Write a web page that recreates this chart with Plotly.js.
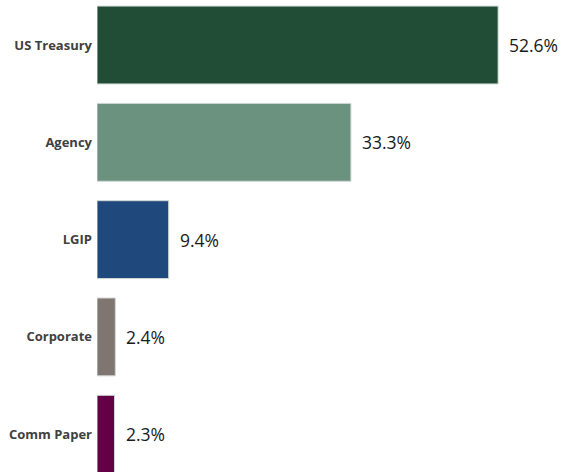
<!DOCTYPE html>
<html><head><meta charset="utf-8">
<script src="https://cdn.plot.ly/plotly-3.0.1.min.js"></script>
<style>html,body{margin:0;padding:0;background:#fff;}#chart{width:562px;height:472px;}</style>
</head><body><div id="chart"></div>
<script>
const categories = ["US Treasury", "Agency", "LGIP", "Corporate", "Comm Paper"];
const values = [52.6, 33.3, 9.4, 2.4, 2.3];
const colors = ["#214d37", "#6a927e", "#1f497d", "#7f7672", "#640046"];

const trace = {
  type: "bar",
  orientation: "h",
  y: categories,
  x: values,
  marker: {color: colors, line: {color: "#d0d8d4", width: 1}},
  hoverinfo: "none"
};

const annotations = categories.map((c, i) => ({
  x: values[i], y: c, xref: "x", yref: "y",
  text: values[i].toFixed(1) + "%",
  showarrow: false, xanchor: "left", yanchor: "middle", xshift: 9,
  font: {family: "Open Sans, sans-serif", size: 17.5, color: "#1a1a1a"}
}));

const layout = {
  width: 562, height: 472,
  margin: {l: 97, r: 9, t: 0, b: 0},
  paper_bgcolor: "#fff", plot_bgcolor: "#fff",
  bargap: 0.2,
  showlegend: false,
  xaxis: {range: [0, 59.8], visible: false, fixedrange: true},
  yaxis: {
    type: "category",
    range: [4.388, -0.4625],
    showgrid: false, zeroline: false, showline: false,
    ticks: "", ticklabelstandoff: 4,
    tickfont: {family: "Open Sans, sans-serif", size: 13, color: "#404040", weight: "bold"}
  },
  annotations: annotations
};

Plotly.newPlot("chart", [trace], layout, {displayModeBar: false, staticPlot: true});
</script></body></html>
